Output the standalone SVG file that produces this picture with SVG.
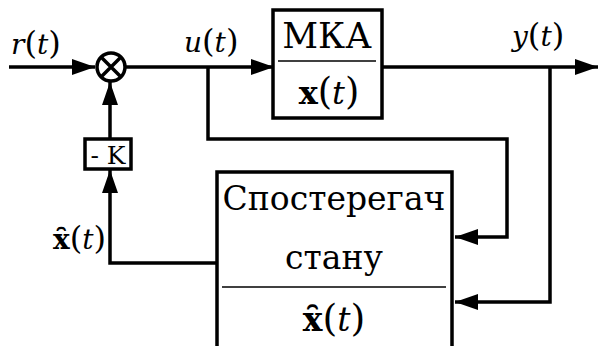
<svg xmlns="http://www.w3.org/2000/svg" width="598" height="346" viewBox="0 0 598 346">
  <style>
    .ln { fill: none; stroke: #000; stroke-width: 3.5; stroke-linejoin: miter; }
    .box { fill: #fff; stroke: #000; stroke-width: 3.5; }
    .div { stroke: #000; stroke-width: 1.6; }
    text { fill: #000; font-family: 'DejaVu Serif', serif; }
    .it { font-style: italic; }
    .bf { font-weight: bold; }
    .p { font-size: 1.15em; }
  </style>
  <defs>
    <marker id="arr" markerUnits="userSpaceOnUse" markerWidth="24" markerHeight="16" refX="23" refY="8" orient="auto">
      <path d="M0,0 L23,8 L0,16 Z" fill="#000"/>
    </marker>
  </defs>

  <g id="connectors">
    <!-- reference input into summing junction -->
    <path class="ln" d="M9,67 H95" marker-end="url(#arr)"/>
    <!-- summing junction to plant -->
    <path class="ln" d="M125,67 H274" marker-end="url(#arr)"/>
    <!-- plant output -->
    <path class="ln" d="M382,67 H598" marker-end="url(#arr)"/>
    <!-- control signal tapped to observer -->
    <path class="ln" d="M208,67 V139 H507 V237 H455" marker-end="url(#arr)"/>
    <!-- output tapped to observer -->
    <path class="ln" d="M550,67 V302 H455" marker-end="url(#arr)"/>
    <!-- estimate back to gain -->
    <path class="ln" d="M217,263 H110 V170" marker-end="url(#arr)"/>
    <!-- gain to summing junction -->
    <path class="ln" d="M110,139 V82" marker-end="url(#arr)"/>
  </g>

  <g id="labels">
    <text x="11" y="54" font-size="28"><tspan class="it">r</tspan><tspan class="p">(</tspan><tspan class="it">t</tspan><tspan class="p">)</tspan></text>
    <text x="184" y="52" font-size="28"><tspan class="it">u</tspan><tspan class="p">(</tspan><tspan class="it">t</tspan><tspan class="p">)</tspan></text>
    <text x="512" y="46" font-size="28"><tspan class="it">y</tspan><tspan class="p">(</tspan><tspan class="it">t</tspan><tspan class="p">)</tspan></text>
    <text x="53" y="249" font-size="28"><tspan class="bf">x&#x311;</tspan><tspan class="p">(</tspan><tspan class="it">t</tspan><tspan class="p">)</tspan></text>
  </g>

  <g id="sum">
    <circle class="ln" cx="111" cy="67" r="14" fill="#fff"/>
    <path class="ln" d="M101,57 L121,77 M121,57 L101,77"/>
  </g>

  <g id="gain">
    <rect class="box" x="85" y="139" width="46" height="30"/>
    <text x="108" y="164" font-size="25" text-anchor="middle">- K</text>
  </g>

  <g id="plant">
    <rect class="box" x="273" y="10" width="109" height="108"/>
    <line class="div" x1="278" y1="61" x2="376" y2="61"/>
    <text x="327" y="48" font-size="35" text-anchor="middle">МКА</text>
    <text x="329" y="104" font-size="32" text-anchor="middle"><tspan class="bf">x</tspan><tspan class="p">(</tspan><tspan class="it">t</tspan><tspan class="p">)</tspan></text>
  </g>

  <g id="observer">
    <rect class="box" x="217" y="172" width="235" height="190"/>
    <line class="div" x1="222" y1="287" x2="446" y2="287"/>
    <text x="334" y="210" font-size="33" text-anchor="middle">Спостерегач</text>
    <text x="334" y="269" font-size="33" text-anchor="middle">стану</text>
    <text x="334" y="331" font-size="33" text-anchor="middle"><tspan class="bf">x&#x311;</tspan><tspan class="p">(</tspan><tspan class="it">t</tspan><tspan class="p">)</tspan></text>
  </g>
</svg>
